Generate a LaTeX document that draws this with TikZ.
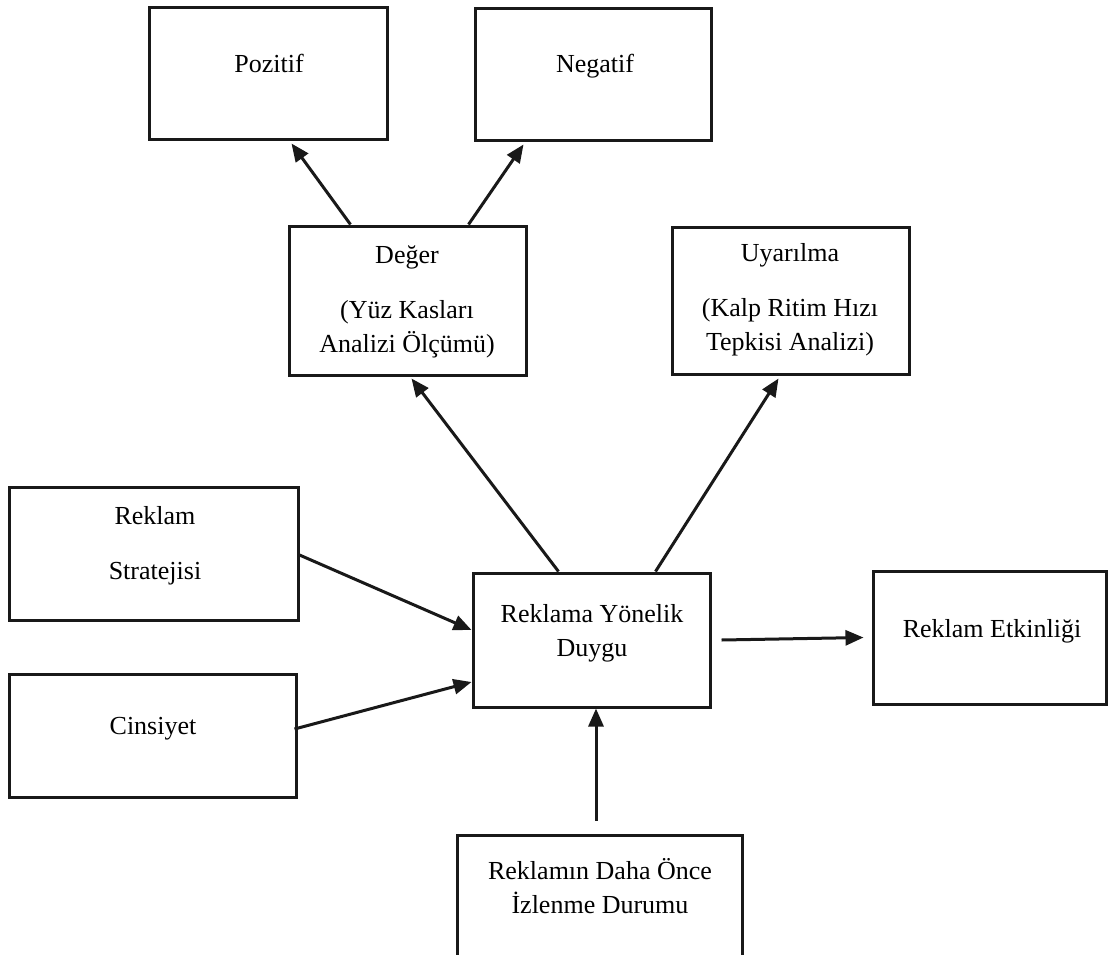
\documentclass[tikz,border=0pt]{standalone}
\usepackage{fontspec}
\setmainfont{Liberation Serif}
\usepackage{tikz}
\tikzstyle{kutu} = [draw=black!90, line width=3pt, inner sep=0pt]
\tikzstyle{yazi} = [align=center, inner sep=0pt,
    font=\fontsize{26}{34}\selectfont]
\usetikzlibrary{arrows.meta}
\tikzset{>={Triangle[length=18pt,width=15pt]}}
\tikzset{ok/.style={->, line width=3pt, draw=black!90}}

\begin{document}
\begin{tikzpicture}[x=1pt, y=-1pt]
    \useasboundingbox (0,0) rectangle (1108,954);
    \clip (0,0) rectangle (1108,954);
    %boxes
    \node[kutu, minimum width=238, minimum height=132] (pozitif) at (268,73) {};
    \node[kutu, minimum width=236, minimum height=132] (negatif) at (593,74) {};
    \node[kutu, minimum width=237, minimum height=149] (deger) at (407.5,300.5) {};
    \node[kutu, minimum width=237, minimum height=147] (uyarilma) at (790.5,300.5) {};
    \node[kutu, minimum width=289, minimum height=133] (strateji) at (153.5,553.5) {};
    \node[kutu, minimum width=287, minimum height=123] (cinsiyet) at (152.5,735.5) {};
    \node[kutu, minimum width=237, minimum height=134] (duygu) at (591.5,640) {};
    \node[kutu, minimum width=233, minimum height=133] (etkinlik) at (989.5,637.5) {};
    \node[kutu, minimum width=285, minimum height=140] (izlenme) at (599.5,905) {};
    %texts
    \node[yazi] (pozitifyazi) at (269,63) {Pozitif};
    \node[yazi] (negatifyazi) at (595,66) {Negatif};
    \node[yazi] (degeryazi) at (407,302) {Değer\\[21pt](Yüz Kasları\\Analizi Ölçümü)};
    \node[yazi] (uyarilmayazi) at (790,300) {Uyarılma\\[21pt](Kalp Ritim Hızı\\Tepkisi Analizi)};
    \node[yazi] (stratejiyazi) at (155,546) {Reklam\\[21pt]Stratejisi};
    \node[yazi] (cinsiyetyazi) at (153,729) {Cinsiyet};
    \node[yazi] (duyguyazi) at (592,633) {Reklama Yönelik\\Duygu};
    \node[yazi] (etkinlikyazi) at (992,631) {Reklam Etkinliği};
    \node[yazi] (izlenmeyazi) at (600,886) {Reklamın Daha Önce\\İzlenme Durumu};
    %arrows
    \draw[ok] ([xshift=63]deger.north west) -- ([xshift=144,yshift=-3]pozitif.south west);
    \draw[ok] ([xshift=181]deger.north west) -- ([xshift=50,yshift=-3]negatif.south west);
    \draw[ok] ([xshift=87]duygu.north west) -- ([xshift=124,yshift=-2]deger.south west);
    \draw[ok] ([xshift=184]duygu.north west) -- ([xshift=108,yshift=-3]uyarilma.south west);
    \draw[ok] ([yshift=-1.5]strateji.east) -- ([yshift=10]duygu.west);
    \draw[ok] ([xshift=-3,yshift=6.5]cinsiyet.east) -- ([yshift=-42]duygu.west);
    \draw[ok] ([xshift=10]duygu.east) -- ([xshift=-8]etkinlik.west);
    \draw[ok] ([xshift=-3.5,yshift=13]izlenme.north) -- ([xshift=4.5]duygu.south);
\end{tikzpicture}
\end{document}
